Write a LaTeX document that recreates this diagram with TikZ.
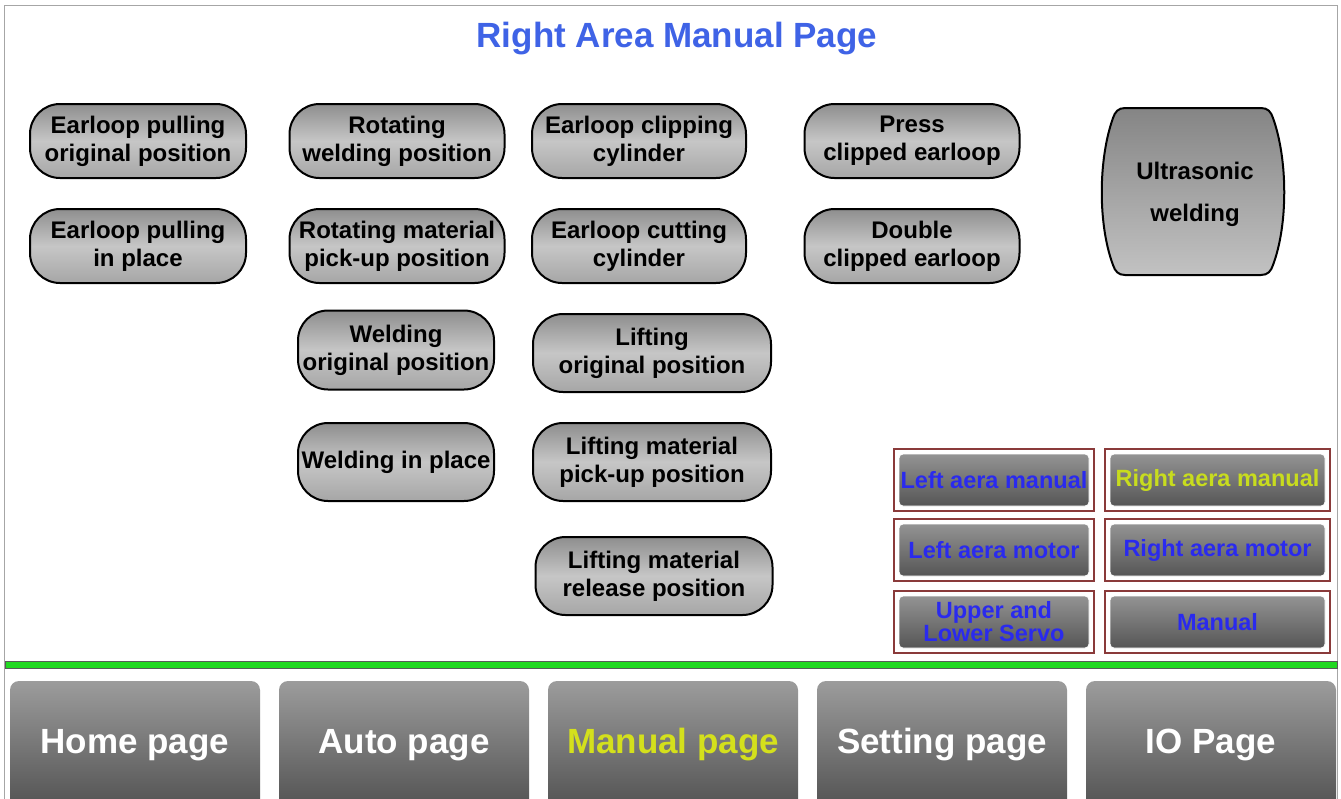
\documentclass[tikz,border=0pt]{standalone}
\usepackage{fontspec}
\setmainfont{Liberation Sans}
\definecolor{titleblue}{HTML}{3F63E6}
\definecolor{btnblue}{HTML}{2A2AEE}
\definecolor{selyellow}{HTML}{C8DC1E}
\definecolor{pageyellow}{HTML}{D4E01C}
\definecolor{framered}{HTML}{8A3A3A}
\definecolor{pilltop}{HTML}{8E8E8E}
\definecolor{pillmid}{HTML}{C6C6C6}
\definecolor{pillbot}{HTML}{A6A6A6}
\definecolor{mtop}{HTML}{999999}
\definecolor{mbot}{HTML}{505050}
\definecolor{pagetop}{HTML}{9C9C9C}
\definecolor{pagebot}{HTML}{525252}
\definecolor{barGreen}{HTML}{22D822}
\definecolor{uwtop}{HTML}{858585}
\definecolor{uwbot}{HTML}{C2C2C2}
\tikzset{
  pill/.style={draw=black, line width=2pt, rounded corners=30pt,
    top color=pilltop, bottom color=pillbot, middle color=pillmid,
    align=center, inner sep=0pt, text=black,
    font=\bfseries\fontsize{24}{28}\selectfont},
  menubtn/.style={draw=framered, line width=1.5pt, fill=white, inner sep=0pt,
    align=center, text=btnblue, minimum height=62pt,
    font=\bfseries\fontsize{23.5}{23}\selectfont,
    path picture={\draw[top color=mtop, bottom color=mbot, draw=white, line width=0.8pt, rounded corners=4pt]
      ([shift={(5pt,-5pt)}]path picture bounding box.north west) rectangle
      ([shift={(-5pt,5pt)}]path picture bounding box.south east);}},
  pagebtn/.style={draw=none, rounded corners=9pt, top color=pagetop, bottom color=pagebot,
    minimum width=250pt, minimum height=128pt, inner sep=0pt, text=white,
    font=\bfseries\fontsize{35}{40}\selectfont},
  titletext/.style={text=titleblue, font=\bfseries\fontsize{35}{40}\selectfont}
}
\begin{document}
\begin{tikzpicture}[x=1pt,y=-1pt]
\useasboundingbox (0,0) rectangle (1341,798);
\fill[white] (0,0) rectangle (1341,798);
\draw[black!35, line width=1pt] (4,5) rectangle (1337,800);

\node[titletext] (title) at (677,39) {Right Area Manual Page};

% pills
\node[pill, minimum width=216pt, minimum height=74pt] (p11) at (138,141) {Earloop pulling\\original position};
\node[pill, minimum width=216pt, minimum height=74pt] (p12) at (138,246) {Earloop pulling\\in place};
\node[pill, minimum width=215pt, minimum height=74pt] (p21) at (397,141) {Rotating\\welding position};
\node[pill, minimum width=215pt, minimum height=74pt] (p22) at (397,246) {Rotating material\\pick-up position};
\node[pill, minimum width=196pt, minimum height=79pt] (p23) at (396,350) {Welding\\original position};
\node[pill, minimum width=196pt, minimum height=78pt] (p24) at (396,462) {Welding in place};
\node[pill, minimum width=214pt, minimum height=74pt] (p31) at (639,141) {Earloop clipping\\cylinder};
\node[pill, minimum width=214pt, minimum height=74pt] (p32) at (639,246) {Earloop cutting\\cylinder};
\node[pill, minimum width=238pt, minimum height=78pt] (p33) at (652,353) {Lifting\\original position};
\node[pill, minimum width=238pt, minimum height=78pt] (p34) at (652,462) {Lifting material\\pick-up position};
\node[pill, minimum width=237pt, minimum height=78pt] (p35) at (654,576) {Lifting material\\release position};
\node[pill, minimum width=215pt, minimum height=74pt] (p41) at (912,141) {Press\\clipped earloop};
\node[pill, minimum width=215pt, minimum height=74pt] (p42) at (912,246) {Double\\clipped earloop};

% ultrasonic welding barrel
\draw[line width=2pt, top color=uwtop, bottom color=uwbot]
  (1125,108) -- (1261,108) .. controls (1268,108) and (1271,112) .. (1273,118)
  .. controls (1288,160) and (1288,225) .. (1273,265)
  .. controls (1271,271) and (1268,275) .. (1261,275) -- (1125,275)
  .. controls (1118,275) and (1115,271) .. (1113,265)
  .. controls (1098,225) and (1098,160) .. (1113,118)
  .. controls (1115,112) and (1118,108) .. (1125,108) -- cycle;
\node[align=center, font=\bfseries\fontsize{24}{42}\selectfont] (uw) at (1195,194) {Ultrasonic\\welding};

% menu buttons
\node[menubtn, minimum width=200pt] (m11) at (994,480) {Left aera manual};
\node[menubtn, minimum width=225pt, text=selyellow] (m12) at (1217.5,480) {Right aera manual};
\node[menubtn, minimum width=200pt] (m21) at (994,550) {Left aera motor};
\node[menubtn, minimum width=225pt] (m22) at (1217.5,550) {Right aera motor};
\node[menubtn, minimum width=200pt] (m31) at (994,622) {Upper and\\Lower Servo};
\node[menubtn, minimum width=225pt] (m32) at (1217.5,622) {Manual};

% green separator
\draw[fill=barGreen, draw=black!65, line width=1pt] (5,661) rectangle (1337,668);

% page buttons
\begin{scope}
\clip (0,0) rectangle (1341,798);
\node[pagebtn] (b1) at (135,745) {Home page};
\node[pagebtn] (b2) at (404,745) {Auto page};
\node[pagebtn, text=pageyellow] (b3) at (673,745) {Manual page};
\node[pagebtn] (b4) at (942,745) {Setting page};
\node[pagebtn] (b5) at (1211,745) {IO Page};
\end{scope}
\end{tikzpicture}
\end{document}
